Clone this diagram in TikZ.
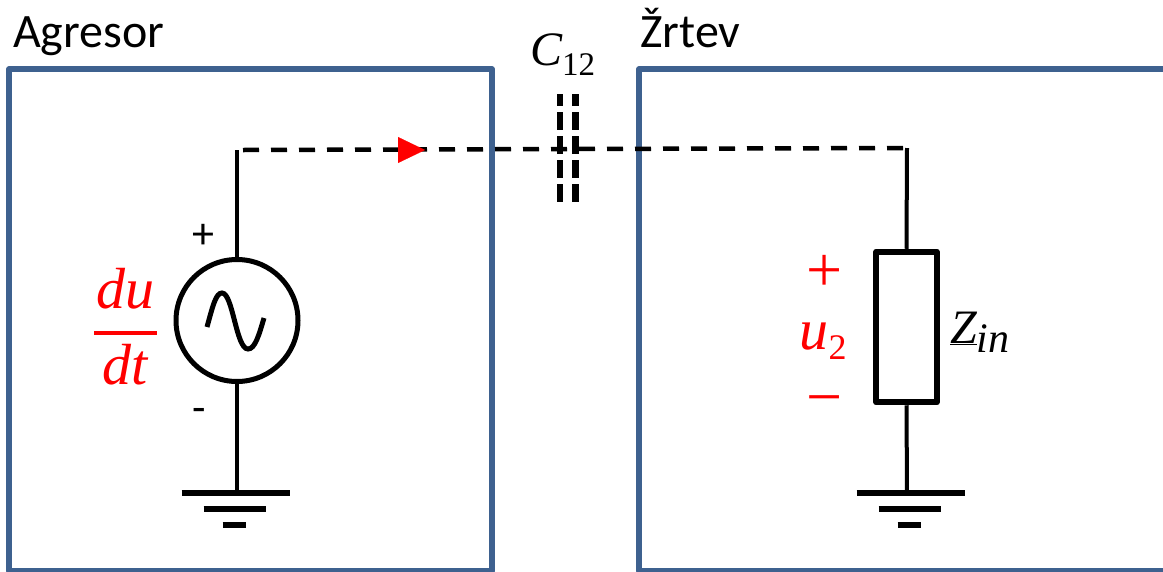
\documentclass[tikz,border=0pt]{standalone}
\usepackage{fontspec}
\setmainfont{Carlito}
\newfontfamily\symbfont{Liberation Serif}
\usetikzlibrary{arrows.meta}
\definecolor{boxblue}{RGB}{62,97,143}
\newcommand{\labelsize}[1]{\fontsize{#1}{#1}\selectfont}
\newcommand{\lowered}[3]{\raisebox{-#1pt}{\labelsize{#2}#3}}
\tikzset{
    region/.style={draw=boxblue, line width=5.5pt, line join=round},
    wire/.style={line width=4pt},
    coupling/.style={line width=4.5pt, dash pattern=on 16pt off 12pt},
    plate/.style={line width=6.5pt, dash pattern=on 18pt off 6pt, dash phase=6pt},
    title/.style={anchor=base west, inner sep=0pt, font=\labelsize{48}},
    polarity/.style={anchor=base, inner sep=0pt, font=\labelsize{44}},
    mathlabel/.style={anchor=base, inner sep=0pt, font=\symbfont\itshape\labelsize{48}},
    redlabel/.style={mathlabel, text=red, font=\symbfont\itshape\labelsize{58}},
    redsign/.style={anchor=base, inner sep=0pt, text=red, font=\symbfont\labelsize{64}},
    gnd/.pic={
        \draw[line width=6pt] (-54,0) -- (54,0);
        \draw[line width=6pt] (-32,16) -- (30,16);
        \draw[line width=6pt] (-13,32) -- (10,32);
    }
}

\begin{document}
\begin{tikzpicture}[x=1pt, y=-1pt]
    \useasboundingbox (0,0) rectangle (1163,571);
    \clip (0,0) rectangle (1163,571);

    \draw[region] (9,69) rectangle (492,571);
    \draw[region] (639,69) rectangle (1175,571);

    \node[title] (agresor) at (13,47) {Agresor};
    \node[title] (zrtev) at (640,47) {Žrtev};

    % source side
    \node[circle, draw, line width=5pt, minimum size=122pt, inner sep=0pt] (src) at (237,320.5) {};
    \coordinate (srcTop) at (237,150);
    \coordinate (srcGnd) at (237,492);
    \draw[wire] (srcTop) -- (src.north);
    \draw[wire] (src.south) -- (srcGnd);
    \pic at (235.5,493) {gnd};
    \draw[line width=5pt] (207,327) .. controls (213,305) and (216,293) .. (222,293)
        .. controls (233,293) and (236,349) .. (248,349)
        .. controls (255,349) and (259,335) .. (264,318);

    \node[polarity] (plus) at (203,248) {+};
    \node[polarity] (minus) at (199,422) {-};

    \node[redlabel] (du) at (125,308) {du};
    \node[redlabel] (dt) at (125,384) {dt};
    \coordinate (barL) at (94,333);
    \coordinate (barR) at (157,333);
    \draw[red, line width=3.5pt] (barL) -- (barR);

    % load side
    \node[rectangle, draw, line width=6pt, line join=round, minimum width=60.5pt, minimum height=150.5pt, inner sep=0pt] (load) at (906.5,327) {};
    \coordinate (loadTop) at (907,148);
    \coordinate (loadGnd) at (907,492);
    \draw[wire] (loadTop) -- (load.north);
    \draw[wire] (load.south) -- (loadGnd);
    \pic at (910.5,493) {gnd};

    \node[redsign] (uplus) at (825,291) {+};
    \node[redlabel] (utwo) at (823,349) {u\lowered{10}{36}{\upshape 2}};
    \node[redsign] (uminus) at (825,418) {−};
    \node[mathlabel, anchor=base west] (zin) at (950,343) {\underline{Z}\lowered{9}{42}{in}};

    % coupling
    \coordinate (coupleStart) at (243,150);
    \draw[coupling] (coupleStart) -- (loadTop);
    \node[mathlabel, anchor=base west] (cap) at (530,65) {C\lowered{10}{33}{\upshape 12}};
    \coordinate (capLa) at (560,94);
    \coordinate (capLb) at (560,202);
    \coordinate (capRa) at (575.5,94);
    \coordinate (capRb) at (575.5,202);
    \draw[plate] (capLa) -- (capLb);
    \draw[plate] (capRa) -- (capRb);

    \coordinate (flowTail) at (398,150);
    \coordinate (flowTip) at (425,150);
    \draw[red, -{Triangle[length=27pt, width=26pt]}, line width=0.1pt] (flowTail) -- (flowTip);
\end{tikzpicture}
\end{document}
